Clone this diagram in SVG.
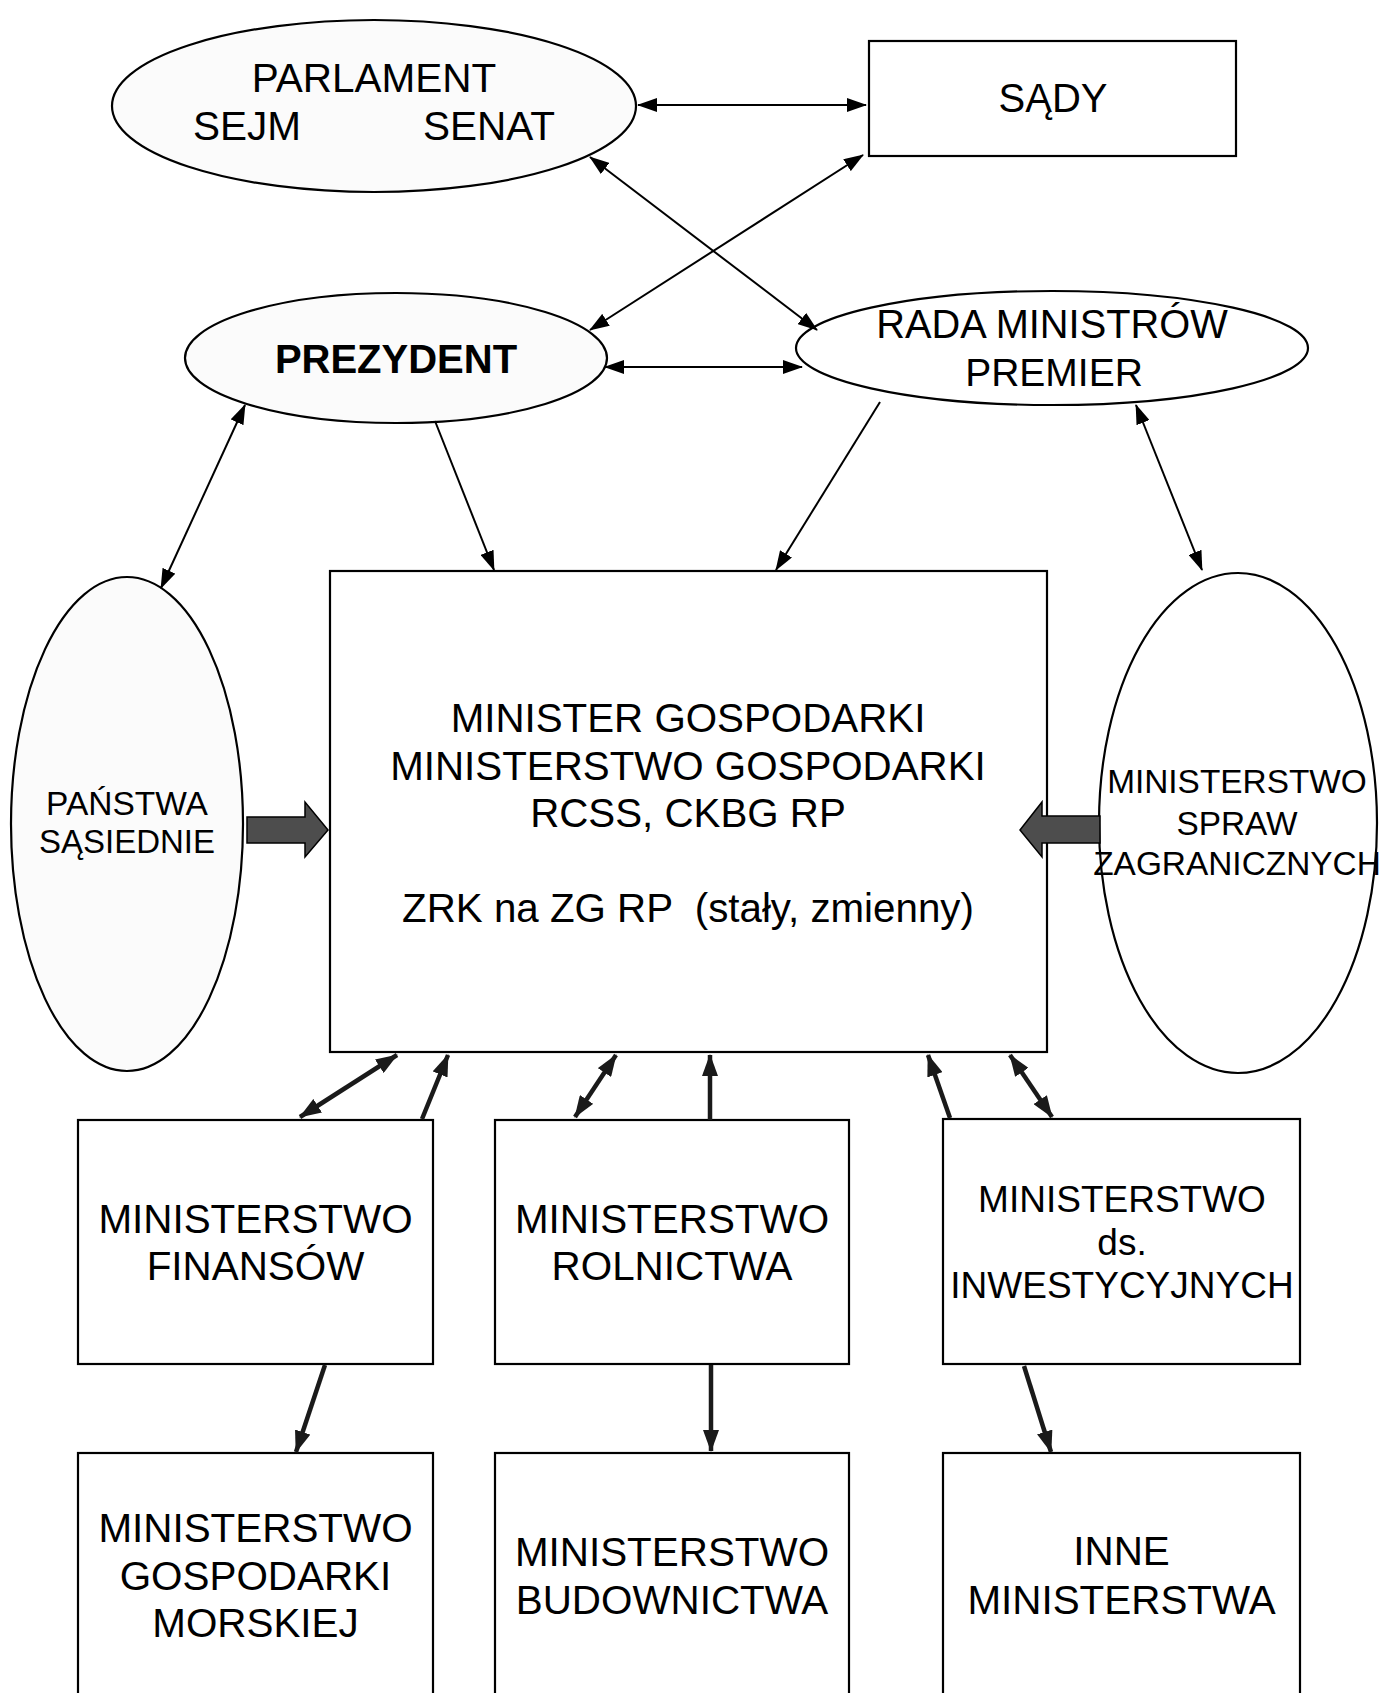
<svg xmlns="http://www.w3.org/2000/svg" width="1392" height="1693" viewBox="0 0 1392 1693">
<style>
.shape{fill:#fff;stroke:#000;stroke-width:2.2}
.shape2{fill:#fbfbfb;stroke:#000;stroke-width:2.2}
.t{font-family:"Liberation Sans",Arial,sans-serif;fill:#000;text-anchor:middle}
.thin{stroke:#000;stroke-width:2;fill:none}
.thick{stroke:#1a1a1a;stroke-width:4.5;fill:none}
.block{fill:#4d4d4d;stroke:#000;stroke-width:1.5}
</style>
<defs>
<marker id="a" viewBox="0 0 20 14" refX="19" refY="7" markerWidth="20" markerHeight="14" markerUnits="userSpaceOnUse" orient="auto-start-reverse">
<path d="M0,0 L20,7 L0,14 z" fill="#000"/>
</marker>
<marker id="b" viewBox="0 0 22 16" refX="21" refY="8" markerWidth="22" markerHeight="16" markerUnits="userSpaceOnUse" orient="auto-start-reverse">
<path d="M0,0 L22,8 L0,16 z" fill="#1a1a1a"/>
</marker>
</defs>
<rect width="1392" height="1693" fill="#fff"/>

<g id="parlament">
<ellipse class="shape2" cx="374" cy="106" rx="262" ry="86"/>
<text class="t" x="374" y="92" font-size="40.5">PARLAMENT</text>
<text class="t" x="247" y="140" font-size="40.5">SEJM</text>
<text class="t" x="489" y="140" font-size="40.5">SENAT</text>
</g>

<g id="sady">
<rect class="shape" x="869" y="41" width="367" height="115"/>
<text class="t" x="1053" y="112" font-size="40">SĄDY</text>
</g>

<g id="prezydent">
<ellipse class="shape2" cx="396" cy="358" rx="211" ry="65"/>
<text class="t" x="396" y="373" font-size="40" font-weight="bold">PREZYDENT</text>
</g>

<g id="rada">
<ellipse class="shape" cx="1052" cy="348" rx="256" ry="57"/>
<text class="t" x="1052" y="338" font-size="39.8">RADA MINISTRÓW</text>
<text class="t" x="1054" y="386" font-size="39">PREMIER</text>
</g>

<g id="panstwa">
<ellipse class="shape2" cx="127" cy="824" rx="116" ry="247"/>
<text class="t" x="127" y="815" font-size="33.5">PAŃSTWA</text>
<text class="t" x="127" y="853" font-size="33">SĄSIEDNIE</text>
</g>

<g id="msz">
<ellipse class="shape" cx="1238" cy="823" rx="139" ry="250"/>
<text class="t" x="1237" y="793" font-size="33.4">MINISTERSTWO</text>
<text class="t" x="1237" y="835" font-size="33.4">SPRAW</text>
<text class="t" x="1237" y="875" font-size="33.4">ZAGRANICZNYCH</text>
</g>

<g id="ministerstwo-gospodarki">
<rect class="shape" x="330" y="571" width="717" height="481" stroke-width="2.5"/>
<text class="t" x="688" y="732" font-size="40.3">MINISTER GOSPODARKI</text>
<text class="t" x="688" y="780" font-size="40.3">MINISTERSTWO GOSPODARKI</text>
<text class="t" x="688" y="827" font-size="40.3">RCSS, CKBG RP</text>
<text class="t" x="688" y="922" font-size="40.3" xml:space="preserve">ZRK na ZG RP  (stały, zmienny)</text>
</g>

<g id="finansow">
<rect class="shape" x="78" y="1120" width="355" height="244"/>
<text class="t" x="255.5" y="1233" font-size="40.4">MINISTERSTWO</text>
<text class="t" x="255.5" y="1280" font-size="40.4">FINANSÓW</text>
</g>

<g id="rolnictwa">
<rect class="shape" x="495" y="1120" width="354" height="244"/>
<text class="t" x="672" y="1233" font-size="40.4">MINISTERSTWO</text>
<text class="t" x="672" y="1280" font-size="40.4">ROLNICTWA</text>
</g>

<g id="inwestycyjnych">
<rect class="shape" x="943" y="1119" width="357" height="245"/>
<text class="t" x="1122" y="1212" font-size="37">MINISTERSTWO</text>
<text class="t" x="1122" y="1255" font-size="37">ds.</text>
<text class="t" x="1122" y="1298" font-size="37">INWESTYCYJNYCH</text>
</g>

<g id="gospodarki-morskiej">
<rect class="shape" x="78" y="1453" width="355" height="270"/>
<text class="t" x="255.5" y="1542" font-size="40.4">MINISTERSTWO</text>
<text class="t" x="255.5" y="1590" font-size="40.4">GOSPODARKI</text>
<text class="t" x="255.5" y="1637" font-size="40.4">MORSKIEJ</text>
</g>

<g id="budownictwa">
<rect class="shape" x="495" y="1453" width="354" height="270"/>
<text class="t" x="672" y="1566" font-size="40.4">MINISTERSTWO</text>
<text class="t" x="672" y="1614" font-size="40.4">BUDOWNICTWA</text>
</g>

<g id="inne">
<rect class="shape" x="943" y="1453" width="357" height="270"/>
<text class="t" x="1121.5" y="1565" font-size="40.4">INNE</text>
<text class="t" x="1121.5" y="1614" font-size="40.4">MINISTERSTWA</text>
</g>

<g id="connectors">
<line class="thin" x1="638" y1="105" x2="866" y2="105" marker-start="url(#a)" marker-end="url(#a)"/>
<line class="thin" x1="590" y1="157" x2="817" y2="330" marker-start="url(#a)" marker-end="url(#a)"/>
<line class="thin" x1="863" y1="155" x2="590" y2="330" marker-start="url(#a)" marker-end="url(#a)"/>
<line class="thin" x1="605" y1="367" x2="802" y2="367" marker-start="url(#a)" marker-end="url(#a)"/>
<line class="thin" x1="245" y1="405" x2="161" y2="588" marker-start="url(#a)" marker-end="url(#a)"/>
<line class="thin" x1="435" y1="421" x2="494" y2="570" marker-end="url(#a)"/>
<line class="thin" x1="880" y1="402" x2="776" y2="570" marker-end="url(#a)"/>
<line class="thin" x1="1136" y1="405" x2="1202" y2="570" marker-start="url(#a)" marker-end="url(#a)"/>
<polygon class="block" points="247,817 305,817 305,802 328,830 305,857 305,843 247,843"/>
<polygon class="block" points="1100,816 1042,816 1042,802 1020,830 1042,857 1042,843 1100,843"/>
<line class="thick" x1="300" y1="1117" x2="397" y2="1055" marker-start="url(#b)" marker-end="url(#b)"/>
<line class="thick" x1="422" y1="1119" x2="448" y2="1055" marker-end="url(#b)"/>
<line class="thick" x1="575" y1="1117" x2="616" y2="1055" marker-start="url(#b)" marker-end="url(#b)"/>
<line class="thick" x1="710" y1="1120" x2="710" y2="1055" marker-end="url(#b)"/>
<line class="thick" x1="950" y1="1118" x2="928" y2="1055" marker-end="url(#b)"/>
<line class="thick" x1="1052" y1="1117" x2="1010" y2="1055" marker-start="url(#b)" marker-end="url(#b)"/>
<line class="thick" x1="325" y1="1365" x2="296" y2="1452" marker-end="url(#b)"/>
<line class="thick" x1="711" y1="1365" x2="711" y2="1451" marker-end="url(#b)"/>
<line class="thick" x1="1024" y1="1366" x2="1051" y2="1452" marker-end="url(#b)"/>
</g>
</svg>
